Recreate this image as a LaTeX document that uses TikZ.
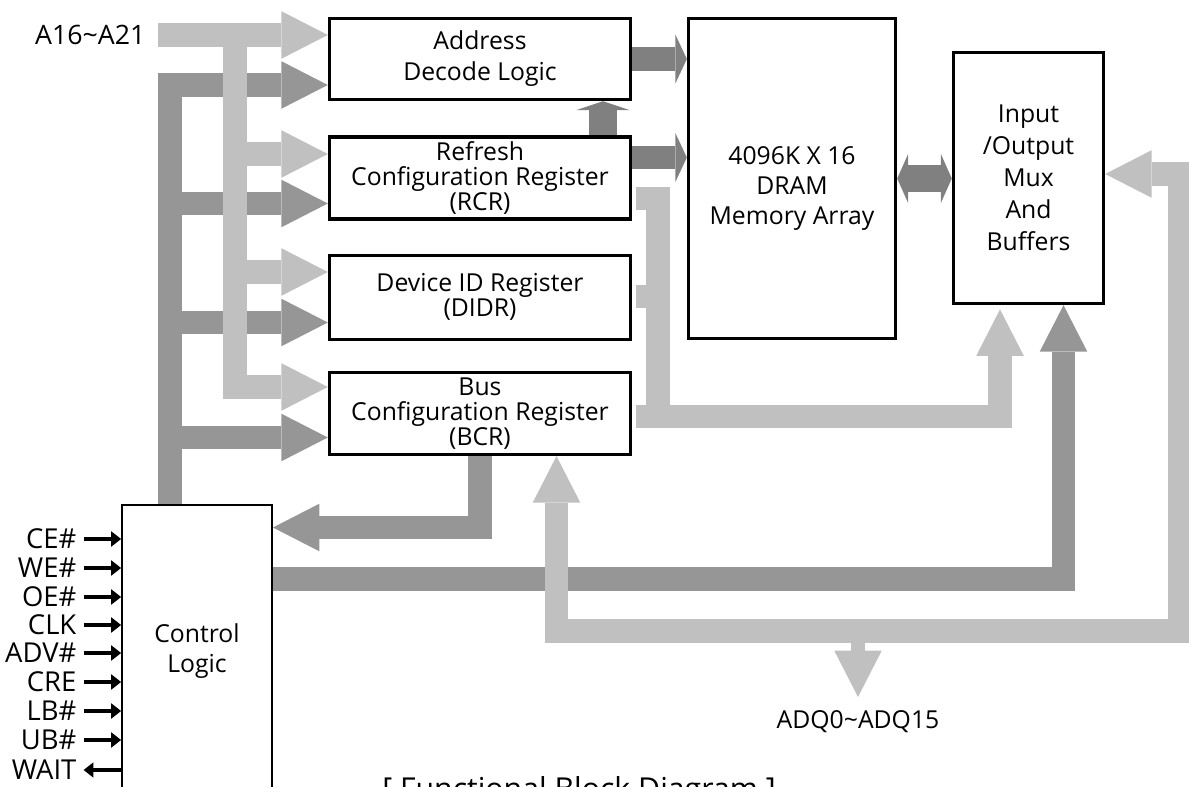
\documentclass[tikz,border=0pt]{standalone}
\usepackage{fontspec}
\setmainfont{Open Sans}
\usetikzlibrary{arrows.meta,positioning}

\definecolor{buslight}{RGB}{192,192,192}
\definecolor{busdark}{RGB}{150,150,150}
\definecolor{arrdark}{RGB}{128,128,128}

\tikzstyle{block} = [rectangle, draw, line width=2.4pt, minimum width=214.1pt, align=center, inner sep=0pt, font=\fontsize{17.6}{17.8}\selectfont]
\tikzstyle{lbl} = [inner sep=1pt, text height=13.5pt, text depth=0pt, font=\fontsize{19.5}{21}\selectfont]
\tikzstyle{lbus} = [draw=buslight, line width=16.4pt]
\tikzstyle{dbus} = [draw=busdark, line width=16.4pt]
\tikzstyle{darr} = [draw=arrdark, line width=17pt]
\tikzstyle{sigline} = [line width=2.6pt, -{Triangle[length=7pt, width=11pt, line width=0pt]}]
\tikzset{bighead/.tip={Triangle[length=33pt, width=33.8pt, line width=0pt]}}
\tikzset{flathead/.tip={Triangle[length=8.2pt, width=35pt, line width=0pt]}}

\begin{document}
\begin{tikzpicture}[x=0.7113pt, y=-0.7113pt]
\useasboundingbox (0,0) rectangle (1189,787);

% Register stack
\node[block, minimum height=57.6pt, font=\fontsize{17.6}{22}\selectfont] (addr) at (480,59) {Address\\Decode Logic};
\node[block, minimum height=58.3pt, below=24.2pt of addr] (rcr) {Refresh\\Configuration Register\\(RCR)};
\node[block, minimum height=59.7pt, below=23.5pt of rcr] (didr) {Device ID Register\\(DIDR)};
\node[block, minimum height=58.3pt, below=21.3pt of didr] (bcr) {Bus\\Configuration Register\\(BCR)};

% Memory array and I/O buffers
\node[block, minimum width=147.2pt, minimum height=227.6pt, font=\fontsize{17.6}{21.3}\selectfont] (dram) at (792,178.5) {\rule{0pt}{27pt}4096K X 16\\DRAM\\Memory Array};
\node[block, minimum width=106.7pt, minimum height=178.5pt, font=\fontsize{17.6}{22.8}\selectfont] (io) at (1028.5,178) {Input\\/Output\\Mux\\And\\Buffers};

% Control logic
\node[block, line width=1.3pt, minimum width=106.7pt, minimum height=207.7pt, font=\fontsize{17.6}{21.3}\selectfont] (ctrl) at (197,651) {Control\\Logic};

% Pin labels
\node[lbl, font=\fontsize{19}{21}\selectfont, anchor=east] (a16) at (147,35) {A16\textasciitilde A21};
\node[lbl, anchor=east] (ce) at (78,539) {CE\#};
\node[lbl, anchor=east] (we) at (78,568) {WE\#};
\node[lbl, anchor=east] (oe) at (78,597) {OE\#};
\node[lbl, anchor=east] (clk) at (78,625) {CLK};
\node[lbl, anchor=east] (adv) at (78,653) {ADV\#};
\node[lbl, anchor=east] (cre) at (78,682) {CRE};
\node[lbl, anchor=east] (lb) at (78,711) {LB\#};
\node[lbl, anchor=east] (ub) at (78,740) {UB\#};
\node[lbl, anchor=east] (wait) at (78,770) {WAIT};
\coordinate (adqtip) at (858,697);
\node[lbl, font=\fontsize{17.6}{21}\selectfont, below=8pt of adqtip] (adq) {ADQ0\textasciitilde ADQ15};
\node[font=\fontsize{21.5}{24}\selectfont, anchor=base] (caption) at (579,799) {[ Functional Block Diagram ]};

% Bus corners
\coordinate (dk0) at (170,85);
\coordinate (dk1) at (170,203.5);
\coordinate (dk2) at (170,322.5);
\coordinate (dk3) at (170,437.5);
\coordinate (lt0) at (235,35);
\coordinate (lt1) at (235,154);
\coordinate (lt2) at (235,272);
\coordinate (lt3) at (235,387);
\coordinate (rb0) at (658,198.5);
\coordinate (rb1) at (658,296.5);
\coordinate (rb2) at (658,416.5);
\coordinate (iol) at (1000,416.5);
\coordinate (iod) at (1063.5,579);
\coordinate (bc) at (480,527.5);
\coordinate (lb0) at (556.5,631);
\coordinate (lb1) at (1180,631);
\coordinate (lb2) at (1180,174);
\coordinate (adq0) at (858,631);
\coordinate (rd) at (660,157.5);
\coordinate (ra) at (603,120);

% Control bus (dark)
\draw[dbus, -{bighead}] (ctrl.north -| dk0) -- (dk0) -- (dk0 -| addr.west);
\draw[dbus, -{bighead}] (dk1) -- (dk1 -| rcr.west);
\draw[dbus, -{bighead}] (dk2) -- (dk2 -| didr.west);
\draw[dbus, -{bighead}] (dk3) -- (dk3 -| bcr.west);
\draw[dbus, -{bighead}] (bcr.south) -- (bc) -- (bc -| ctrl.east);
\draw[dbus, -{bighead}] (ctrl.east |- iod) -- (iod) -- (iod |- io.south);

% Address bus (light)
\draw[lbus, -{bighead}] ([xshift=8pt]a16.east) -- (a16.east -| addr.west);
\draw[lbus, -{bighead}] (lt0) -- (lt3) -- (lt3 -| bcr.west);
\draw[lbus, -{bighead}] (lt1) -- (lt1 -| rcr.west);
\draw[lbus, -{bighead}] (lt2) -- (lt2 -| didr.west);

% Register read-out bus
\draw[lbus] ([xshift=3pt]rcr.east |- rb0) -- (rb0) -- (rb2);
\draw[lbus] ([xshift=3pt]didr.east |- rb1) -- (rb1);
\draw[lbus, -{bighead}] ([xshift=3pt]bcr.east |- rb2) -- (iol) -- ([yshift=-3pt]iol |- io.south);

% Data bus ADQ
\draw[lbus, {bighead}-{bighead}] (bcr.south -| lb0) -- (lb0) -- (lb1) -- (lb2) -- (lb2 -| io.east);
\draw[lbus, line width=10pt, -{bighead}] (adq0) -- (adqtip);

% Internal paths
\draw[darr, -{flathead}] (addr.east) -- (addr.east -| dram.west);
\draw[darr, line width=16pt, -{flathead}] (rcr.east |- rd) -- (rd -| dram.west);
\draw[darr, line width=19.9pt, -{Triangle[length=6.4pt, width=38.4pt, line width=0pt]}] (rcr.north -| ra) -- (addr.south -| ra);
\draw[darr, line width=19.2pt, {Triangle[length=7.8pt, width=34.9pt, line width=0pt]}-{Triangle[length=7.8pt, width=34.9pt, line width=0pt]}] (dram.east) -- (dram.east -| io.west);

% Control pins
\draw[sigline] ([xshift=4pt]ce.east) -- (ce.east -| ctrl.west);
\draw[sigline] ([xshift=4pt]we.east) -- (we.east -| ctrl.west);
\draw[sigline] ([xshift=4pt]oe.east) -- (oe.east -| ctrl.west);
\draw[sigline] ([xshift=4pt]clk.east) -- (clk.east -| ctrl.west);
\draw[sigline] ([xshift=4pt]adv.east) -- (adv.east -| ctrl.west);
\draw[sigline] ([xshift=4pt]cre.east) -- (cre.east -| ctrl.west);
\draw[sigline] ([xshift=4pt]lb.east) -- (lb.east -| ctrl.west);
\draw[sigline] ([xshift=4pt]ub.east) -- (ub.east -| ctrl.west);
\draw[sigline] (wait.east -| ctrl.west) -- ([xshift=4pt]wait.east);

\end{tikzpicture}
\end{document}
